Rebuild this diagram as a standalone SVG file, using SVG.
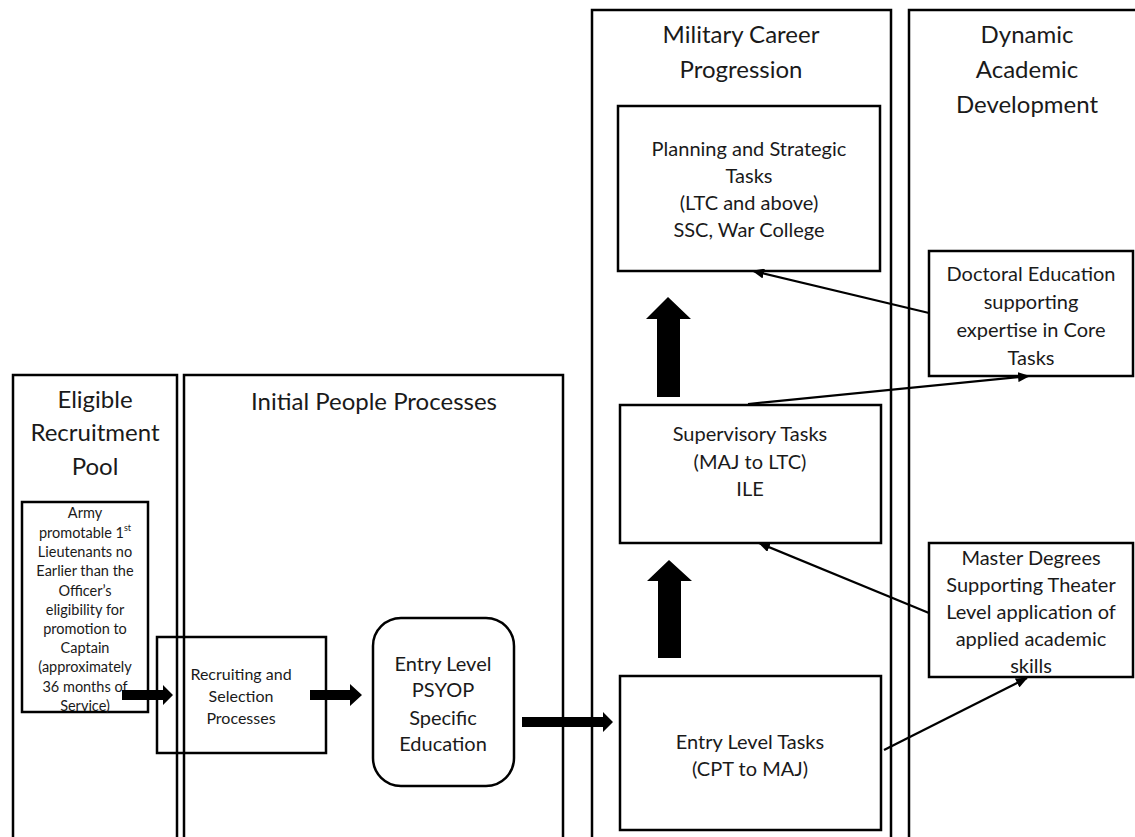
<svg xmlns="http://www.w3.org/2000/svg" width="1135" height="837" viewBox="0 0 1135 837">
<style>
.box{fill:none;stroke:#000;stroke-width:2.5}
.lane{fill:none;stroke:#000;stroke-width:2.5}
text{font-family:Lato,"Open Sans","Liberation Sans",sans-serif;fill:#1a1a1a;text-anchor:middle;dominant-baseline:central}
.t{font-size:24px}
.m{font-size:20px}
.s{font-size:16px}
.xs{font-size:14.5px}
.blk{fill:#000;stroke:none}
.ln{stroke:#000;stroke-width:2.2;fill:none;marker-end:url(#ah)}
</style>
<defs>
<marker id="ah" viewBox="0 0 12 10" refX="11" refY="5" markerWidth="12" markerHeight="10" markerUnits="userSpaceOnUse" orient="auto">
<path d="M0,0 L12,5 L0,10 Z" fill="#000"/>
</marker>
</defs>
<rect width="1135" height="837" fill="#fff"/>
<g id="lane-eligible">
<rect class="lane" x="13" y="375" width="164" height="480"/>
<text class="t" x="95" y="398">Eligible</text>
<text class="t" x="95" y="431">Recruitment</text>
<text class="t" x="95" y="465">Pool</text>
</g>
<g id="lane-initial">
<rect class="lane" x="184" y="375" width="379" height="480"/>
<text class="t" x="374" y="400">Initial People Processes</text>
</g>
<g id="lane-military">
<rect class="lane" x="592" y="10" width="299" height="845"/>
<text class="t" x="741" y="33">Military Career</text>
<text class="t" x="741" y="68">Progression</text>
</g>
<g id="lane-dynamic">
<rect class="lane" x="909" y="10" width="240" height="845"/>
<text class="t" x="1027" y="33">Dynamic</text>
<text class="t" x="1027" y="68">Academic</text>
<text class="t" x="1027" y="103">Development</text>
</g>
<g id="army">
<rect class="box" x="22" y="502" width="126" height="210"/>
<text class="xs" x="85" y="512">Army</text>
<text class="xs" x="85" y="532">promotable 1<tspan font-size="9" dy="-5">st</tspan></text>
<text class="xs" x="85" y="551">Lieutenants no</text>
<text class="xs" x="85" y="570">Earlier than the</text>
<text class="xs" x="85" y="590">Officer’s</text>
<text class="xs" x="85" y="609">eligibility for</text>
<text class="xs" x="85" y="628">promotion to</text>
<text class="xs" x="85" y="647">Captain</text>
<text class="xs" x="85" y="666">(approximately</text>
<text class="xs" x="85" y="686">36 months of</text>
<text class="xs" x="85" y="705">Service)</text>
</g>
<g id="recruiting">
<rect class="box" x="157" y="637" width="169" height="116"/>
<text class="s" x="241" y="673">Recruiting and</text>
<text class="s" x="241" y="695">Selection</text>
<text class="s" x="241" y="717">Processes</text>
</g>
<g id="psyop">
<rect class="box" x="373" y="618" width="141" height="168" rx="28" ry="28"/>
<text class="m" x="443" y="663">Entry Level</text>
<text class="m" x="443" y="689">PSYOP</text>
<text class="m" x="443" y="717">Specific</text>
<text class="m" x="443" y="743">Education</text>
</g>
<g id="planning">
<rect class="box" x="618" y="106" width="262" height="165"/>
<text class="m" x="749" y="148">Planning and Strategic</text>
<text class="m" x="749" y="175">Tasks</text>
<text class="m" x="749" y="202">(LTC and above)</text>
<text class="m" x="749" y="229">SSC, War College</text>
</g>
<g id="supervisory">
<rect class="box" x="620" y="405" width="261" height="138"/>
<text class="m" x="750" y="433">Supervisory  Tasks</text>
<text class="m" x="750" y="461">(MAJ to LTC)</text>
<text class="m" x="750" y="488">ILE</text>
</g>
<g id="entry">
<rect class="box" x="620" y="676" width="261" height="154"/>
<text class="m" x="750" y="741">Entry Level Tasks</text>
<text class="m" x="750" y="768">(CPT to MAJ)</text>
</g>
<g id="doctoral">
<rect class="box" x="929" y="251" width="204" height="125"/>
<text class="m" x="1031" y="273">Doctoral Education</text>
<text class="m" x="1031" y="301">supporting</text>
<text class="m" x="1031" y="329">expertise in Core</text>
<text class="m" x="1031" y="357">Tasks</text>
</g>
<g id="master">
<rect class="box" x="929" y="543" width="204" height="134"/>
<text class="m" x="1031" y="557">Master Degrees</text>
<text class="m" x="1031" y="584">Supporting Theater</text>
<text class="m" x="1031" y="611">Level application of</text>
<text class="m" x="1031" y="638">applied academic</text>
<text class="m" x="1031" y="665">skills</text>
</g>
<g id="connectors">
<path class="blk" d="M122,690 H163 V685 L173,695 L163,705 V700 H122 Z"/>
<path class="blk" d="M310,690 H350 V684 L362,695 L350,706 V700 H310 Z"/>
<path class="blk" d="M522,717 H603 V712 L613,722 L603,732 V727 H522 Z"/>
<path class="blk" d="M657,397 V319 H646 L668,297 L691,319 H680 V397 Z"/>
<path class="blk" d="M658,658 V581 H647 L669,560 L692,581 H681 V658 Z"/>
<line class="ln" x1="929" y1="313" x2="753" y2="271"/>
<line class="ln" x1="748" y1="404" x2="1029" y2="376"/>
<line class="ln" x1="929" y1="613" x2="759" y2="543"/>
<line class="ln" x1="884" y1="750" x2="1027" y2="678"/>
</g>
</svg>
